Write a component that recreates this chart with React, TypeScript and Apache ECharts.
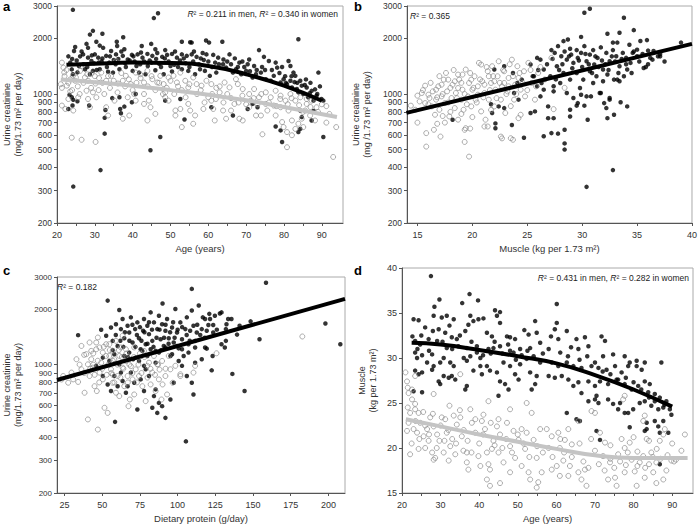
import React, { useEffect, useRef } from "react";
import * as echarts from "echarts";

// ---------- tick values ----------
const creatTicks = [200, 300, 400, 500, 600, 700, 800, 900, 1000, 2000, 3000];
const ageLabels = [20, 30, 40, 50, 60, 70, 80, 90];
const ageTicks = [20, 25, 30, 35, 40, 45, 50, 55, 60, 65, 70, 75, 80, 85, 90];
const muscleXTicks = [15, 20, 25, 30, 35, 40];
const proteinTicks = [25, 50, 75, 100, 125, 150, 175, 200];
const muscleYTicks = [15, 20, 25, 30, 35, 40];

// ---------- panel a: age vs urine creatinine ----------
const menA = [
  [24.2,2860],[45.6,2580],[46.7,2740],[29.5,2200],[28.7,2100],[32,2120],[37.5,2030],
  [24.8,1800],[24.5,1710],[27.8,1870],[28.2,1780],[30.4,1920],[31.3,1830],[32.2,1780],[35.8,1920],[35.9,1820],[37.8,1750],[42.4,1820],[44.9,1870],[46,1750],[48.6,1730],[53,1920],[55.2,1910],[55.6,1900],
  [23.5,1480],[25.2,1520],[26.1,1600],[26.9,1640],[28.2,1575],[29.1,1510],[30,1640],[30.9,1575],[33,1610],[34.3,1710],[35.6,1640],[37.4,1610],[38.7,1540],[39.8,1630],[41.3,1640],[42.6,1575],[43.9,1650],[45.2,1610],[46.5,1670],[47.8,1590],[49.1,1630],[50.4,1650],[51.7,1575],[53,1640],[54.3,1610],[55.6,1640],[56.9,1590],
  [27,1450],[29.8,1470],[31.8,1500],[33.8,1480],[35,1530],[38,1470],[40.5,1500],[42,1450],[44.5,1520],[47,1460],[49.5,1500],[51,1440],[52.5,1520],[54,1470],[56,1500],[57.5,1450],
  [23.9,1360],[24.2,1280],[25.4,1310],[27.4,1360],[28.7,1280],[29.5,1335],[31.3,1363],[33.5,1320],[34.8,1307],[36.5,1363],[40,1335],[41.7,1307],[43.4,1281],[46,1346],[48.2,1281],[50.4,1324],[53,1363],[54.7,1335],[56.5,1281],
  [23.3,990],[23.9,960],[24.3,930],[25.4,913],[23,830],[24.1,866],[28.5,866],[32.6,743],[32.8,820],[34.6,950],[36.5,960],[36.7,830],[36.9,787],[37.8,855],[39.8,902],[40.8,1000],[32.6,610],[31.5,387],[24.3,315],[44.7,496],[47.3,585],[53.7,728],[48.6,921],[52.6,940],
  [83.8,1980],[63.7,1920],[59.4,1950],[60.2,1900],[73.4,1730],[74.7,1590],[70.8,1540],[58.5,1670],[59.5,1640],[61.3,1630],[62.6,1575],[65.6,1640],[68.2,1480],[70.4,1450],[72.1,1420],[76,1510],[77.8,1480],[78.2,1390],[81.2,1510],[81.7,1420],[82.5,1307],[83,1255],[81.7,1180],[84.3,1180],[84.7,1110],[86,1085],[87.3,1040],[89.1,1307],[88.6,980],[89.9,940],[90.4,921],
  [58.8,1530],[61.8,1480],[64,1540],[66,1450],[67,1560],[69.5,1400],[71,1330],[75,1350],[78.8,1300],[80.3,1250],[82.8,1160],[85.5,1120],[86.8,1010],[88.2,1060],
  [57.8,1363],[59.1,1335],[60.4,1255],[62.1,1307],[63.9,1450],[64.7,1390],[66.5,1307],[67.3,1363],[68.7,1281],[70,1335],[71.7,1229],[72.6,1281],[73.9,1307],[75.2,1204],[76.5,1180],[77.3,1255],[79.1,1155],[79.9,1204],[80.8,1132],[82.1,1086],[83.4,1064],[83.8,1021],[85.1,1000],[86.4,960],[87.8,921],
  [60.8,848],[66.5,765],[70.4,830],[71.7,884],[73,848],[77.8,667],[79.1,635],[79.5,550],[84.3,814],[84.7,750],[83.8,622],[84.3,647],[87.3,719],[90.4,585],[87.8,810],
  [23,1600],[24,1550],[25.8,1420],[26.5,1700],[28,1400],[29.2,1620],[30.5,1350],[31,1480],[32,1560],[33.2,1400],[34,1600],[35.5,1450],[36.2,1550],[37,1700],[38.2,1400],[39.2,1520],[40.2,1600],[41,1420],[42.2,1680],[43,1500],[44,1420],[45,1480],[46.2,1550],[47.5,1400],[48.5,1560],[50,1420],[51.2,1700],[52,1400],[53.5,1560],[55,1400],[56.2,1700],[58,1560],[60,1500],[61,1400],[62.8,1450],[65,1500],[67.8,1400],[69,1500],[72.8,1350],[74.2,1400],[76.8,1350],[79.5,1400],[80.5,1150],[82,1250],[83.5,1150],[85.8,1200],[87,1150],[88.8,1000],[89.5,1100]
];
const womenA = [
  [21.3,1480],[21.7,1390],[21.9,1310],[21,1130],[21.3,1080],[22.6,1110],[23.5,1200],[24.2,1255],[24.8,1180],[26.1,1335],[26.5,1420],[27.4,1230],[28.2,1180],[29.1,1290],[30.2,1140],[31.1,1220],[31.7,1307],[33,1180],[34.3,1255],[35.6,1511],[36.1,1140],[37.4,1180],[38.2,1255],[39.5,1132],[40.8,1307],[42.1,1220],[43,1155],[43.9,1335],[45.2,1204],[46.5,1155],[47.3,1255],[48.2,1132],[49.5,1229],[50.8,1255],[51.7,1155],[52.6,1307],[53.9,1180],[54.7,1086],[56,1229],[56.9,1132],
  [21.3,866],[22.2,830],[23.5,1033],[23,940],[24.3,814],[25.6,960],[27.8,1042],[28.2,940],[28.7,848],[29.5,1021],[30.4,960],[33,848],[33.5,765],[35.2,921],[37.4,735],[38.7,960],[40.4,1000],[40.8,921],[43,884],[44.3,921],[44.7,848],[46,781],[43.9,719],[48.6,1021],[49.5,921],[51.3,814],[52.6,830],[53,662],[54.7,884],[55.2,814],[56.5,765],[56,690],[23.9,580],[26.5,565],[30.2,550],[48.6,960],[51.3,765],[39.1,765],
  [58.2,1110],[59.5,1180],[60.8,1132],[62.1,1080],[63,1021],[64.3,1155],[65.6,1086],[67.3,1204],[67.8,1132],[69.1,1064],[70.8,1000],[72.1,1064],[73.4,960],[75.2,1021],[76.5,960],[77.8,1042],[79.1,980],[80.4,921],[81.7,1000],[83,921],[84.3,960],[86,884],[87.3,921],[88.6,848],[91.2,860],[91.2,700],[93.8,662],[93,456],
  [58.7,830],[61.3,830],[61.7,719],[63.9,814],[64.7,735],[66.9,884],[68.2,735],[69.1,719],[72.6,765],[73.9,765],[74.3,605],[75.6,814],[77.3,866],[77.8,765],[79.5,705],[79.9,662],[80.8,622],[82.1,598],[83,647],[83.8,690],[84.7,735],[85.1,662],[80.8,515],[85.6,814],[86.9,765],[88.2,719],[82.1,719],
  [60.8,921],[60,960],[66,814],[70.8,848],[71.2,921],[75.2,884],[79.1,848],[81.2,814],
  [22,1250],[22.5,1350],[23,1150],[24,1050],[25,1230],[25.5,1100],[26,1000],[27,1150],[28,1280],[29,1080],[30,1250],[31,1050],[32,1150],[32.5,1000],[33.5,1250],[34,1080],[35,1180],[36,1020],[37,1300],[38,1100],[39,1200],[40,1050],[41,1150],[42,1280],[43,1000],[44,1100],[45,1250],[46,1050],[47,1150],[48,1000],[49,1080],[50,1180],[51,1000],[52,1100],[53,1050],[54,960],[55,1130],[57,1000],[58,1050],[59,900],[61,1000],[62,940],[63,1100],[64,900],[65,1000],[66,950],[68,900],[69,980],[70,880],[72,950],[73,880],[74,1000],[76,900],[78,860],[79,940],[81,880],[82,950],[84,870],[85,800],[86,940],[87,850],[89,800],[90,880],[92,780]
];
const fitMenA = [[22.5,1440],[30,1460],[40,1480],[50,1475],[60,1420],[70,1280],[80,1110],[90,920]];
const fitWomenA = [[21,1200],[30,1160],[40,1110],[50,1050],[60,990],[70,925],[80,850],[94,750]];

// ---------- panel b: muscle vs urine creatinine ----------
const womenB = [
  [14.4,865],[14.8,822],[15.2,912],[15.4,1013],[15.7,1110],[15.8,614],[15.8,519],[16.1,951],[16.3,857],[16.4,1034],[16.6,772],[16.7,932],[16.9,1101],[17,822],[17.1,588],[17.2,971],[17.4,1197],[17.5,893],[17.7,1034],[17.9,756],[18.1,951],[18.2,1124],[18.4,839],[18.5,1013],[18.7,726],[18.8,1197],[19,932],[19.1,1056],[19.2,822],[19.4,1357],[19.4,653],[19.6,971],[19.7,1148],[19.9,857],[19.7,458],[19.3,550],[20,1056],[20.2,1248],[20.3,932],[20.5,1101],[20.6,1475],[20.8,805],[20.9,1172],[21.1,1013],[21.2,726],[21.4,1329],[21.5,932],[21.7,1148],[21.8,1415],[22,857],[22.1,1056],[22.3,1248],[22.4,1505],[22.6,932],[22.7,1101],[22.9,1329],[23,789],[23.2,1034],[23.3,1222],[23.5,576],[23.6,1536],[23.8,932],[23.9,1124],[24.1,1415],[24.4,1056],[24.4,772],[24.7,1329],[24.8,971],[25.1,1475],[25.4,1148],[25.7,932],[26,1301],
  [15.7,893],[16,992],[16.7,1056],[17.2,1124],[17.6,1301],[18.4,1172],[18.7,1078],[19.1,1275],[19.9,1197],[20.5,992],[21.1,1124],[21.5,1248],[22,1172],[22.9,1148],[23.3,1101],[24.2,1222],[20.8,1445],[18.7,1275],[17.8,1197],
  [21.1,667],[21.4,667],[22.6,588],[24.2,740],[27.2,1570],[27.4,828],[28.4,1080],[16.5,640],[19.3,640],[19.8,650],[22.7,575],[23.7,565],[15,700],[17.3,760],
  [15,980],[15.5,1050],[16,880],[16.2,1150],[16.8,960],[17,1250],[17.3,1000],[17.8,900],[18,1080],[18.3,1350],[18.6,950],[19,1150],[19.3,1000],[19.5,880],[19.8,1300],[20.1,1080],[20.4,900],[20.7,1200],[21,960],[21.3,1400],[21.6,1050],[21.9,1250],[22.2,950],[22.5,1150],[22.8,1350],[23.1,1000],[23.4,1450],[23.7,1250],[24,1000],[24.3,1300],[24.6,1150],[25,1050],[25.3,1350],[25.8,1100],[26.2,1400],[26.6,1200],[18,800],[19,780],[20,750],[21.7,820],[23.5,860],[17.5,700],[16.8,690]
];
const menB = [
  [22,1357],[22.9,1415],[21.8,789],[22.1,693],[22.1,653],[22.4,857],[22.9,839],[23.6,680],[23.8,1013],[24.1,1148],[24.2,932],[24.5,1197],[24.7,580],[25.3,789],[25.7,805],[25.9,1570],[26.2,1536],[26.5,590],[26.5,1357],[18.2,726],[21.7,880],[23.7,1300],
  [25.3,1445],[25.6,1248],[25.9,1101],[26.2,971],[26.3,1148],[26.5,1056],
  [30.2,2760],[30.7,2900],[33.8,2590],[34.7,2220],[32.3,2120],[33.4,2150],[29.9,2040],[32.8,1900],[33.2,1900],[35.3,1940],[35.9,1960],[39,1900],[28.7,1976],[28.3,1935],[36.5,1710],[37.1,1600],[35.6,1385],[36.4,1536],
  [27.2,1730],[27.5,1671],[27.8,1818],[28.1,1603],[28.4,1700],[28.6,1536],[28.9,1760],[29,1635],[29.2,1475],[29.5,1730],[29.6,1570],[29.9,1671],[30.2,1818],[30.4,1505],[30.7,1635],[31,1730],[31.1,1445],[31.4,1570],[31.7,1790],[31.9,1357],[32.2,1671],[32.5,1505],[32.8,1730],[33.1,1603],[33.4,1415],[33.7,1671],[34,1570],[34.3,1850],[34.4,1475],[34.7,1700],[35,1603],
  [27.1,1248],[27.4,1101],[27.7,1415],[28,1148],[28.3,1301],[28.6,1013],[28.9,1197],[29.2,951],[29.5,1301],[29.8,1078],[30.1,1197],[30.4,971],[30.7,1329],[31,1148],[31.3,1248],[31.6,1013],[31.9,1172],[32.3,1275],[32.5,932],[32.9,1197],[33.4,1172],[33.8,1248],[34.1,1357],[27.4,1034],
  [27.4,740],[28.4,640],[28.4,540],[28.4,500],[28.9,822],[28.9,756],[29.5,865],[29.6,893],[29.9,992],[30.2,865],[30.5,726],[30.4,314],[30.8,971],[31.7,1013],[32,893],[32.2,839],[32.3,740],[32.5,951],[32.9,772],[32.8,387],[33.2,1197],[33.5,902],[34.1,857],[27.2,614],[27.8,610],[26.9,857],[26.9,740],
  [34.6,1671],[35,1740],[36.2,1570],[36.9,1600],[37.1,1650],[36,1720],[35.8,1400],
  [26.8,1450],[27.3,1550],[27.9,1350],[28.2,1450],[28.8,1600],[29.1,1380],[29.7,1520],[30,1400],[30.3,1650],[30.6,1450],[30.9,1300],[31.2,1600],[31.5,1400],[31.8,1520],[32.1,1450],[32.4,1350],[32.7,1600],[33,1500],[33.3,1300],[33.6,1550],[34,1450],[34.5,1300],[35.2,1500],[35.5,1650],[36,1450],[37.5,1500],[25.5,1250],[26,1350],[26.6,1200],[27.6,1200]
];
const fitB = [[14,790],[40,1870]];

// ---------- panel c: dietary protein vs urine creatinine ----------
const womenC = [
  [23,830],[27.4,797],[29.6,905],[32.9,1070],[34,805],[36.2,943],[38.3,703],[39.4,1140],[40.5,1004],[41.6,867],[42.7,1070],[40.5,503],[43.8,963],[44.9,763],[46,1213],[46.4,718],[47.1,443],[48.2,905],[49.3,1025],[50.4,831],[51.5,582],[52.6,1292],[53.6,546],[54.7,1115],[55.8,943],[56.9,797],[58,1070],[59.1,703],[60.2,867],[61.3,674],[62.4,1240],[63.5,963],[64.6,763],[65.7,1047],[66.8,867],[67.4,594],[68.3,646],[70.1,831],[71.2,688],[72.2,943],[74.4,867],[76.6,763],[78.8,633],[79.9,985],[82.1,780],[83.2,905],[85.4,718],[86.5,1004],[87.6,831],[89.3,646],[91.9,867],[93,688],[95.2,943],[96.7,797],[98.5,985],[101.8,867],
  [36.2,1264],[41.6,1320],[42.7,1188],[46,1320],[47.1,1405],[48.2,1240],[50.4,1163],[52.6,1115],[54.7,1292],[56.9,1188],[59.1,1347],[61.3,1115],[63.5,1435],[65.7,1213],[67.9,1070],[71.2,1240],[74.4,1092],[77.7,1188],[81,1025],[84.3,1115],[89.7,1047],[94.1,1115],[24.1,867],[30.7,831],
  [125.8,1153],[182.7,1423],[110.5,905],[111.6,985],[101.8,886],[44,1000],[38,1130],[57,880],[69,980],[75,1150],[88,940],
  [35,1000],[38,900],[42,950],[44,1150],[45,880],[47,1050],[48,800],[50,950],[51,1250],[53,880],[54,1000],[55,1200],[56,900],[57,1050],[58,800],[60,1000],[61,1200],[62,850],[63,1100],[64,950],[66,1150],[67,800],[68,1000],[70,900],[71,1100],[73,800],[74,1000],[76,900],[78,1100],[80,850],[82,950],[85,880],[87,1000],[90,780],[92,950]
];
const menC = [
  [34,1447],[53.6,2231],[61.3,1984],[109.4,2585],[105.5,382],[58.5,488],
  [49.3,1548],[52.6,1435],[55.8,1593],[56.9,1347],[59.1,1660],[60.2,1264],[62.4,1561],[63.5,1771],[64.6,1392],[66.8,1628],[67.9,1497],[69,1809],[70.1,1320],[71.8,1561],[73.3,1698],[74.4,1392],[75.5,1213],[77.1,1528],[77.7,1771],[78.8,1292],[79.9,1628],[81,1465],[82.1,1925],[83.2,1347],[84.3,1698],[85.4,1188],[86.5,1561],[87.6,1847],[88.7,1375],[89.7,1660],[90.8,1264],[91.9,1528],[93,1771],[94.1,1392],[95.2,1115],[96.3,1593],[97.4,1320],[98.5,2008],[99.6,1497],[100.7,1226],[101.8,1698],[102.9,1375],[104,1115],[105.1,1561],[106.1,1809],[107.2,1292],[108.3,1528],[109.4,1970],[110.5,1628],[111.6,1347],[112.7,1497],
  [50.4,867],[53.6,780],[55.8,718],[58,867],[60.2,763],[62.4,905],[63.5,814],[65.7,703],[66.8,763],[69,905],[71.2,797],[73.3,570],[75.5,831],[77.7,718],[78.8,943],[81,867],[83.2,582],[84.3,674],[85.4,733],[86.5,546],[87.6,619],[89.7,594],[91.9,513],[95.2,646],[97.4,797],[100.7,1047],[102.9,985],[106.1,867],[109.4,797],[110.5,688],[111.6,1025],[70.5,1070],[74.4,1047],[77.7,985],[85.4,1025],
  [46,985],[50.4,1092],[54.7,1047],[58,1140],[61.3,1004],[64.6,1115],[67.9,1163],[72.2,1092],[76.6,1188],[79.9,1115],[82.1,1213],[87.6,1163],[91.9,1240],[96.3,1140],[99.6,1264],[102.9,1213],[107.2,1163],[111.6,1240],
  [158.6,2790],[198,1676],[207.9,1292],[154.3,1375],[148.4,1720],[144.4,718],[136.3,890],[122.6,931],[141.1,1628],[139.4,1457],[132.4,1660],[133.5,1771],[135.7,1771],[128,1900],[129.1,1925],[121,1890],[121.5,1771],[118.2,1771],[116.7,1809],[124.7,1847],[123.6,1643],[120.4,1643],[119.3,1528],[116,1561],[123.6,1497],[132,1561],[129.1,1292],[132,1347],[131.3,1240],[118.2,1240],[119.3,1222],[123.2,1115],[116,1070],[114,2100],[90,2150],
  [57,1200],[59,1450],[62,1350],[64,1250],[65,1500],[67,1100],[68,1350],[70,1650],[72,1250],[73,1450],[75,1600],[76,1350],[78,1500],[80,1300],[81,1700],[83,1550],[84,1250],[86,1400],[88,1550],[89,1200],[91,1400],[92,1650],[94,1300],[95,1500],[97,1700],[98,1400],[100,1550],[103,1600],[106,1450],[108,1350],[113,1650],[115,1450],[118,1400],[126,1550]
];
const fitC = [[20,825],[211,2280]];

// ---------- panel d: age vs muscle ----------
const menD = [
  [27.5,39.1],[29.7,36.5],[28.4,35.7],[37.5,37.1],[35.6,36.1],[39.7,36.4],[23,34.3],[24.3,34.2],[26,33.4],[28.2,34.7],[30.3,34.5],[31.6,34.7],[33.4,34.3],[37.7,34.7],[38.5,34.1],[39.8,34.3],[41.1,34.4],[37.2,33.7],[44.1,35.3],[45.4,35.1],[44.6,34.7],[45.4,33.9],[32.3,33.6],[29.5,33.2],[31.2,32.8],[32.9,32.3],[34.2,32.1],[36.4,33],[42,32.8],[43.3,32.4],[47.2,32.4],[48,32.3],[49.3,32.1],[51.7,33.1],[52.8,32.6],[54.5,34.1],[54.9,32.8],[22.7,32.4],[23.4,31.9],[24.7,31.5],[26.9,32.1],[29.1,31.9],[31.6,31.1],[34.6,31.3],[36.8,31.1],[39.4,31.3],[42.4,31],[43.7,31.1],[45.4,31.3],[48,30.8],[50.6,31],[53.2,31.1],[55.8,31.7],
  [23.4,30.6],[23.9,30],[25.2,30.3],[26.5,29.5],[27.8,30.4],[28.2,29.1],[29.9,29.5],[30.8,30],[32.5,29.5],[33.4,29.1],[36.8,29.7],[37.7,30.2],[39.4,30.6],[40.3,30],[42,29.1],[42.8,28.6],[44.6,28.4],[46.3,29.5],[48,29.1],[48.9,30.6],[50.6,29.3],[52.3,29.9],[54.1,30.2],[55.8,29.5],[23.4,28.6],[24.3,28.2],[25.2,28.4],[27.8,28.7],[29.5,27.4],[29.9,27.1],[30.8,28],[32.1,27.8],[32.9,28],[33.8,27.6],[36.8,26.9],[36.4,26.5],[38.5,28.6],[40.3,29.1],[40.7,28.2],[45.4,27.4],[45,25.8],[46.7,27.1],[47.6,26.5],[49.3,28.2],[50.2,27.6],[53.2,28.4],[54.9,28],[54.5,27.1],[53.6,26.5],[23,26.3],[25.2,26.2],
  [60.1,36],[60.1,33.9],[59.6,33.2],[58.6,32.4],[60.5,32.1],[62.7,33],[65.2,32.1],[67.4,32.3],[63.8,31.2],[65.7,31],[68.3,31.3],[72.1,30.2],[71.7,32.4],[72.6,31.9],[74.7,30.4],[77.7,30.2],[79,29.5],[80.8,29.7],[82.9,29.5],[87.2,29.5],[58.8,29.5],[60.5,29.1],[62.7,29.5],[64.4,29.1],[66.5,28.9],[69.1,29.1],[70.9,28.9],[73,28.7],[75.2,29.1],[76.9,28.4],[78.6,29.1],[80.8,29.1],[82.1,28.7],
  [58,28],[59.6,27.8],[61.4,28],[63.1,27.6],[64.4,26.9],[65.7,27.3],[68.3,27.4],[70,26.9],[71.3,27.4],[73.4,27.1],[75.6,27.6],[77.7,27.1],[79.5,26.5],[81.2,26.9],[82.9,27.4],[84.2,27.1],[83.8,26.2],[85.5,26],[86.8,25.6],[88.5,25.2],[89.4,24.3],[89.8,23.7],[87.7,24.5],[86.4,24.3],[84.6,24.7],[82.9,25.2],[81.6,25],[79.9,24.3],[77.7,23.9],[76,24.3],[76.5,25],[74.7,24.9],[73.4,25.4],[70.9,25],[70.4,25.8],[70,25.4],[68.3,25.2],[66.5,26.1],[65.2,23.2],[66.1,23],[62.7,23.9],[70.4,21.9],[79,22.3],[82.9,21.9],[83.4,22.1],[86.4,22.4],[86.8,21.7],[89,21.7],[83.4,22.8],[85.5,23],[78.6,23.9],[86.8,18.2],[71.3,20.9],[87.7,23],
  [24,31],[25,32.5],[27,30.8],[28,33],[30.5,31.8],[33,31],[35,32.5],[36,30],[38,31.8],[41,30.3],[43,30.5],[44,31.8],[46,30.5],[47.5,31.5],[49.5,29.8],[51,30.3],[52.5,30.8],[56.5,30.5],[58,31],[61,30.6],[63,30.2],[66,29.8],[68,30.2],[70,29.5],[72,28.5],[74,28.2],[76,27.6],[78,27.8],[80,27.3],[82,26.5],[84,25.6],[85.5,25.2],[88,24.8]
];
const womenD = [
  [20.9,28.4],[21.3,27.4],[21.5,26.7],[21.7,26.1],[22.6,26.5],[22.1,23.9],[23.4,24.3],[21.7,22.8],[23,22.1],[21.3,21.9],[23.9,21.7],[24.7,22.8],[25.6,21.3],[26.5,22.1],[27.3,23.4],[28.2,22.4],[29.1,21.5],[29.7,20.8],[26.9,20.8],[26,20],[24.3,19.9],[22.1,19.3],[27.8,19.5],[28.6,18.9],[31.2,23.2],[31.6,21.7],[32.3,24.7],[32.5,20.2],[33.8,19.3],[34.2,22.6],[35.1,23.4],[35.5,21.3],[35.9,19.7],[36.8,18.4],[37.2,17.6],[38.1,22.8],[39,21.7],[39.8,19.1],[40.3,18],[40.7,23],[41.5,22.1],[42.4,18.2],[42.8,17.6],[43.7,20.8],[44.6,22.4],[45.4,21.5],[45,19.5],[46.3,18.4],[47.2,22.8],[48,20.2],[48.9,21.9],[49.3,18.9],[50.2,20.9],[51,22.1],[51.9,19.9],[52.3,21.7],[52.8,17.3],[53.6,23.9],[54.1,20.9],[54.9,18.9],[55.8,22.1],[55.3,16.2],[56.2,17.3],
  [35.1,28.2],[42.4,25.2],[24.3,23.9],[30.3,23.4],[33.4,23.6],[37.7,24.3],[41.1,23.7],[48,24.3],[52.3,25],[28.2,18.7],[30.8,19.5],[32.1,18.6],[36.8,19.5],[43.3,19.9],[42,16.5],[42.8,15.8],[45.4,16.1],[48,17.3],[51,18],[53.2,16.5],[54.9,15.6],[23.4,28],[28.2,26],[22.6,25.4],[23.4,24.9],
  [57.5,22.1],[58.8,21.3],[60.5,21.7],[62.2,20.9],[63.1,22.1],[64,20.4],[60.9,20],[61.8,18.6],[60.1,18],[58.8,17.6],[63.5,18],[63.1,16.9],[60.9,16.9],[65.7,17.3],[66.5,16.5],[67.4,17.6],[68.3,17.8],[67.8,15.8],[70,19.7],[71.3,21.7],[72.6,20.6],[72.1,19.1],[73.9,18.4],[75.2,16.7],[75.6,15.8],[73.4,16.5],[76.9,21],[77.7,20],[79,20.6],[79.5,18.7],[80.3,17.4],[80.8,15.8],[81.6,18.4],[82.5,19.1],[83.4,21],[84.6,19.5],[85.1,17.3],[85.9,18.4],[86.8,20.8],[87.7,21.5],[88.1,22.1],[87.7,16.5],[85.9,16.1],[82.9,16.7],[77.7,17.3],[89.8,18.6],[93.3,21.5],[92.4,19.7],[82.9,23.6],[82.5,23],[77.7,25.8],[77.3,25.4],[69.1,24.1],[70,23.9],[65.7,23],
  [74,18.8],[76,19.3],[78,18.1],[81,19.6],[84,18.2],[86,19.9],[88.8,19.2],[90.5,18.5],
  [21.5,24.5],[22.5,20.5],[23.5,23],[24.5,21],[25.5,24],[26,22.5],[27,21.5],[28,23.8],[29,20],[30,22.5],[31,20.8],[32,22],[33,21],[34,20.5],[35,24.2],[36,22],[37,20.8],[38,19.5],[39,23.2],[40,20.5],[41,21.5],[42,19.5],[43,22.8],[44,20.3],[45,23.2],[46,20],[47,21],[48.5,19.5],[50,21.5],[51.5,20.5],[53,19],[55,20.2],[56.5,19.5],[58,20],[59,19],[61,21],[62,19.5],[64,19],[66,20.5],[67,18.5],[69,21],[71,18.2],[72.5,17.5],[74,20.3],[75,17.8],[76.5,18.5],[78.5,19.5],[80,21.2],[81,18],[83,17.8],[84,20.8],[85,19],[87,18.8],[88.5,17.5],[90,20.5],[91,18.7]
];
const fitMenD = [[22.5,31.7],[30,31.5],[40,30.9],[50,30.2],[60,29.4],[70,28.1],[80,26.5],[90,24.6]];
const fitWomenD = [[21,23.2],[30,22.4],[40,21.5],[50,20.7],[60,19.9],[70,19.2],[80,18.9],[94,18.9]];

const FONT = "'Liberation Sans', Arial, Helvetica, sans-serif";
const L = (v: number) => Math.log10(v);
const logPts = (pts: number[][]) => pts.map(([x, y]) => [x, L(y)]);

function makeX(gridIndex: number, min: number, max: number, labels: number[], ticks: number[], name: string) {
  return {
    type: "value", gridIndex, min, max, name, nameLocation: "middle", nameGap: 20,
    nameTextStyle: { fontSize: 9.5, color: "#333", fontFamily: FONT },
    axisLine: { show: true, onZero: false, lineStyle: { color: "#555", width: 1 } },
    axisTick: { show: true, inside: false, length: 3, customValues: ticks, lineStyle: { color: "#555" } },
    axisLabel: { customValues: labels, fontSize: 9, color: "#333", fontFamily: FONT, margin: 7 },
    splitLine: { show: false },
  };
}
function makeYLog(gridIndex: number, name: string, nameGap: number, labelSize: number) {
  const vals = creatTicks.map(L);
  return {
    type: "value", gridIndex, min: L(200), max: L(3000), name, nameLocation: "middle", nameGap,
    nameTextStyle: { fontSize: 9, color: "#333", fontFamily: FONT, lineHeight: 11 },
    axisLine: { show: true, onZero: false, lineStyle: { color: "#555", width: 1 } },
    axisTick: { show: true, inside: false, length: 3, customValues: vals, lineStyle: { color: "#555" } },
    axisLabel: { customValues: vals, fontSize: labelSize, lineHeight: 8, color: "#333", fontFamily: FONT, margin: 5,
      formatter: (v: number) => String(Math.round(Math.pow(10, v))) },
    splitLine: { show: false },
  };
}
function makeYLin(gridIndex: number, name: string, nameGap: number) {
  return {
    type: "value", gridIndex, min: 15, max: 40, name, nameLocation: "middle", nameGap,
    nameTextStyle: { fontSize: 9, color: "#333", fontFamily: FONT, lineHeight: 11 },
    axisLine: { show: true, onZero: false, lineStyle: { color: "#555", width: 1 } },
    axisTick: { show: true, inside: false, length: 3, customValues: muscleYTicks, lineStyle: { color: "#555" } },
    axisLabel: { customValues: muscleYTicks, fontSize: 9, color: "#333", fontFamily: FONT, margin: 5 },
    splitLine: { show: false },
  };
}

const menStyle = { color: "#000" };
const womenStyle = { color: "rgba(255,255,255,0)", borderColor: "#8c8c8c", borderWidth: 0.9 };

function scatter(idx: number, data: number[][], men: boolean) {
  return {
    type: "scatter", xAxisIndex: idx, yAxisIndex: idx, data,
    symbol: "circle", symbolSize: men ? 4.5 : 5,
    itemStyle: men ? menStyle : womenStyle, silent: true,
  };
}
function fit(idx: number, data: number[][], color: string, smooth: boolean) {
  return {
    type: "line", xAxisIndex: idx, yAxisIndex: idx, data, smooth, showSymbol: false, symbol: "none",
    lineStyle: { color, width: 4 }, silent: true, z: 5,
  };
}

function r2Text(x: number, y: number, text: string, align: string) {
  return {
    type: "text", x, y, silent: true,
    style: {
      text, align, verticalAlign: "middle", fill: "#222", fontSize: 8.5, fontFamily: FONT,
      rich: { i: { fontStyle: "italic", fontSize: 8.5, fontFamily: FONT, fill: "#222" } },
    },
  };
}
function letter(x: number, y: number, t: string) {
  return { type: "text", x, y, silent: true,
    style: { text: t, fontSize: 13, fontWeight: "bold", fontFamily: FONT, fill: "#000" } };
}

export default function App() {
  const ref = useRef<HTMLDivElement>(null);
  useEffect(() => {
    if (!ref.current) return;
    const chart = echarts.init(ref.current, null, { renderer: "svg" });
    const option = {
      animation: false,
      backgroundColor: "#fff",
      grid: [
        { left: 53, top: 6, width: 290, height: 217, show: true, borderColor: "#aaa", borderWidth: 1, containLabel: false },
        { left: 407, top: 6, width: 288, height: 217, show: true, borderColor: "#aaa", borderWidth: 1, containLabel: false },
        { left: 53, top: 277, width: 292, height: 216, show: true, borderColor: "#aaa", borderWidth: 1, containLabel: false },
        { left: 402, top: 268, width: 291, height: 225, show: true, borderColor: "#aaa", borderWidth: 1, containLabel: false },
      ],
      xAxis: [
        makeX(0, 20, 95.6, ageLabels, ageTicks, "Age (years)"),
        makeX(1, 14.05, 40, muscleXTicks, muscleXTicks, "Muscle (kg per 1.73 m²)"),
        makeX(2, 20, 211, proteinTicks, proteinTicks, "Dietary protein (g/day)"),
        makeX(3, 20, 95.4, ageLabels, ageTicks, "Age (years)"),
      ],
      yAxis: [
        makeYLog(0, "Urine creatinine\n(mg/1.73 m² per day)", 34, 8.5),
        makeYLog(1, "Urine creatinine\n(mg /1.73 m² per day)", 35, 8.5),
        makeYLog(2, "Urine creatinine\n(mg/1.73 m² per day)", 34, 8),
        makeYLin(3, "Muscle\n(kg per 1.73 m²)", 24),
      ],
      series: [
        scatter(0, logPts(menA), true),
        scatter(0, logPts(womenA), false),
        fit(0, logPts(fitWomenA), "#c4c4c4", true),
        fit(0, logPts(fitMenA), "#000", true),
        scatter(1, logPts(menB), true),
        scatter(1, logPts(womenB), false),
        fit(1, logPts(fitB), "#000", false),
        scatter(2, logPts(menC), true),
        scatter(2, logPts(womenC), false),
        fit(2, logPts(fitC), "#000", false),
        scatter(3, menD, true),
        scatter(3, womenD, false),
        fit(3, fitWomenD, "#c4c4c4", true),
        fit(3, fitMenD, "#000", true),
      ],
      graphic: [
        letter(3, 0, "a"), letter(354, 0, "b"), letter(3, 264, "c"), letter(354, 264, "d"),
        r2Text(338, 14, "{i|R}² = 0.211 in men, {i|R}² = 0.340 in women", "right"),
        r2Text(410, 16, "{i|R}² = 0.365", "left"),
        r2Text(57, 287, "{i|R}² = 0.182", "left"),
        r2Text(689, 278, "{i|R}² = 0.431 in men, {i|R}² = 0.282 in women", "right"),
      ],
    };
    chart.setOption(option as any);
    return () => chart.dispose();
  }, []);
  return <div ref={ref} style={{ position: "absolute", left: 0, top: 0, width: 700, height: 526 }} />;
}
